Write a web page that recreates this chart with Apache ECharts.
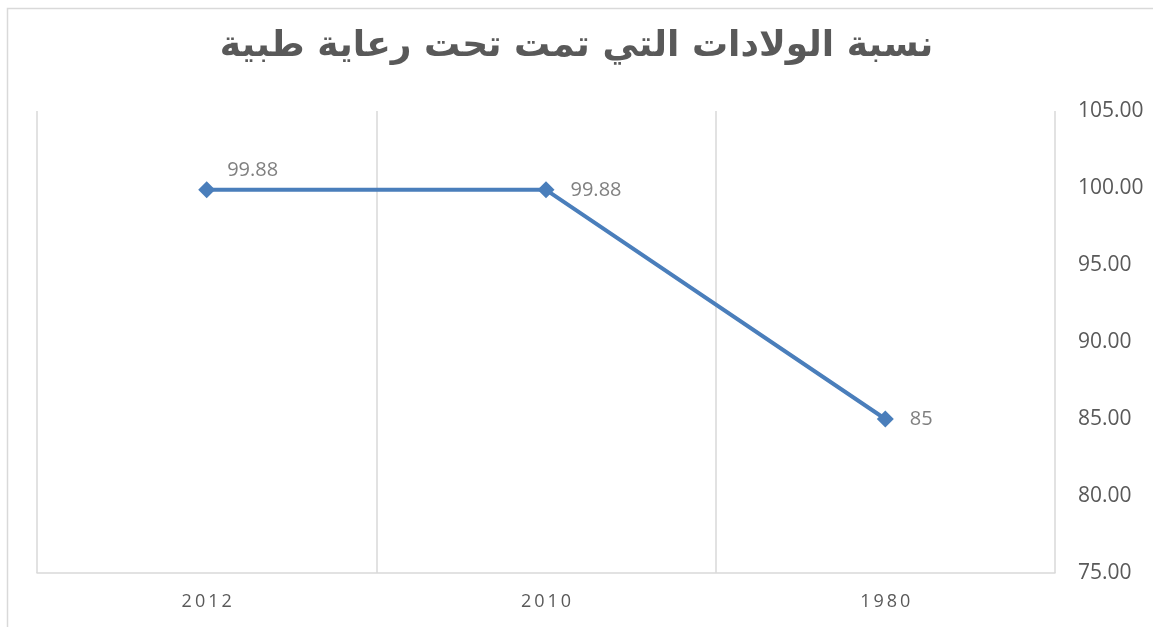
<!DOCTYPE html>
<html>
<head>
<meta charset="utf-8">
<script src="https://cdn.jsdelivr.net/npm/echarts@6/dist/echarts.min.js"></script>
<style>
  html, body { margin: 0; padding: 0; background: #ffffff; }
  #chart { width: 1153px; height: 627px; }
</style>
</head>
<body>
<div id="chart"></div>
<script>
// Share of births attended by medical staff
const chartTitle = 'نسبة الولادات التي تمت تحت رعاية طبية';
const years = ['2012', '2010', '1980'];
const births = [99.88, 99.88, 85];
const valueLabels = ['99.88', '99.88', '85'];

const yMin = 75, yMax = 105, yStep = 5;

// first point carries its label above, the others to the right
const labelPlacement = [
  { position: 'top', offset: [46, 4] },
  { position: 'right', distance: 16 },
  { position: 'right', distance: 16 }
];

const seriesData = births.map((v, i) => ({
  value: v,
  label: Object.assign({ formatter: () => valueLabels[i] }, labelPlacement[i])
}));

const chart = echarts.init(document.getElementById('chart'));
chart.setOption({
  animation: false,
  backgroundColor: '#ffffff',
  graphic: [{
    type: 'rect',
    shape: { x: 7.5, y: 8.5, width: 1180, height: 660 },
    style: { fill: 'none', stroke: '#d9d9d9', lineWidth: 1.5 },
    silent: true
  }],
  title: {
    text: chartTitle,
    left: 'center',
    top: 24,
    textStyle: {
      fontFamily: 'DejaVu Sans',
      fontSize: 36,
      fontWeight: 'bold',
      color: '#595959'
    }
  },
  grid: { left: 37, right: 98, top: 111, bottom: 54 },
  xAxis: {
    type: 'category',
    data: years,
    boundaryGap: true,
    axisLine: { show: true, lineStyle: { color: '#d9d9d9', width: 1.5 } },
    axisTick: { show: false },
    axisLabel: {
      margin: 20,
      fontFamily: 'Open Sans',
      fontSize: 18,
      color: '#595959',
      formatter: s => s.split('').join('\u2009')
    },
    splitLine: { show: true, lineStyle: { color: '#d9d9d9', width: 1.5 } }
  },
  yAxis: {
    type: 'value',
    position: 'right',
    min: yMin,
    max: yMax,
    interval: yStep,
    axisLine: { show: false },
    axisTick: { show: false },
    splitLine: { show: false },
    axisLabel: {
      margin: 23,
      fontFamily: 'Open Sans',
      fontSize: 21,
      color: '#595959',
      formatter: v => v.toFixed(2)
    }
  },
  series: [{
    type: 'line',
    data: seriesData,
    symbol: 'diamond',
    symbolSize: 17,
    itemStyle: { color: '#4a7ebb' },
    lineStyle: { color: '#4a7ebb', width: 4 },
    label: {
      show: true,
      fontFamily: 'Open Sans',
      fontSize: 20,
      color: '#808080'
    }
  }]
});
</script>
</body>
</html>
